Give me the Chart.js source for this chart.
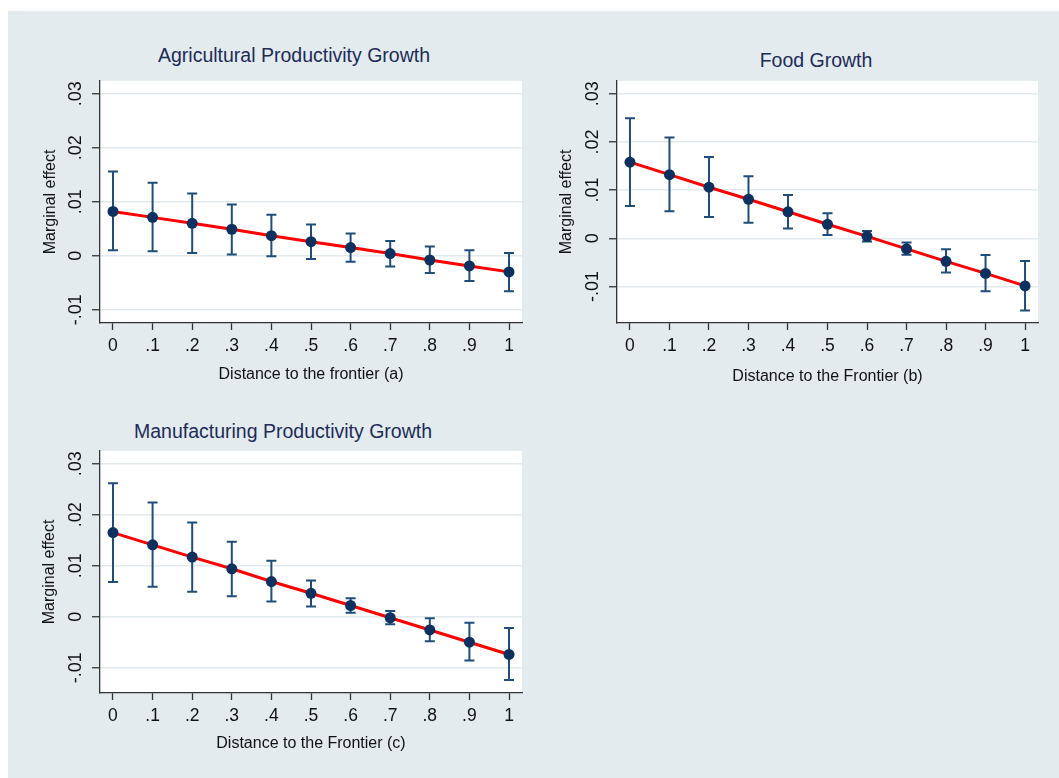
<!DOCTYPE html>
<html>
<head>
<meta charset="utf-8">
<script src="https://cdn.jsdelivr.net/npm/chart.js@4.4.1/dist/chart.umd.min.js"></script>
<style>
  body { margin: 0; width: 1059px; height: 778px; overflow: hidden; position: relative; background: #fff;
         font-family: "Liberation Sans", Arial, sans-serif; }
  #bg { position: absolute; left: 8px; top: 11px; right: 0; bottom: 0; background: #e3ebef; }
  canvas { position: absolute; }
  .ttl { position: absolute; transform: translate(-50%, -50%); font-size: 19.5px; color: #1d2b57; white-space: nowrap; }
</style>
</head>
<body>
<div id="bg"></div>
<div class="ttl" style="left:294px; top:55px">Agricultural Productivity Growth</div>
<div class="ttl" style="left:816px; top:60px">Food Growth</div>
<div class="ttl" style="left:283px; top:431px">Manufacturing Productivity Growth</div>
<canvas id="chartA" width="500" height="330" style="left:30px; top:70px"></canvas>
<canvas id="chartB" width="500" height="330" style="left:547px; top:70px"></canvas>
<canvas id="chartC" width="500" height="330" style="left:30px; top:440px"></canvas>

<script>
// distance to the frontier, shared by all three panels
const xValues = [0, 0.1, 0.2, 0.3, 0.4, 0.5, 0.6, 0.7, 0.8, 0.9, 1];
const xTickLabels = ['0', '.1', '.2', '.3', '.4', '.5', '.6', '.7', '.8', '.9', '1'];
const yTickValues = [-0.01, 0, 0.01, 0.02, 0.03];
const yTickLabels = ['-.01', '0', '.01', '.02', '.03'];

// (a) agricultural productivity growth
const agriEffect = [0.0082, 0.0071, 0.0060, 0.0049, 0.0037, 0.0026, 0.0015, 0.0004, -0.0008, -0.0019, -0.0030];
const agriUpper  = [0.0156, 0.0135, 0.0115, 0.0095, 0.0076, 0.0058, 0.0041, 0.0027, 0.0017, 0.0010, 0.0005];
const agriLower  = [0.0010, 0.0008, 0.0005, 0.0002, -0.0001, -0.0006, -0.0011, -0.0020, -0.0032, -0.0047, -0.0066];

// (b) food growth
const foodEffect = [0.0158, 0.0132, 0.0106, 0.0081, 0.0055, 0.0029, 0.0004, -0.0022, -0.0048, -0.0073, -0.0099];
const foodUpper  = [0.0249, 0.0209, 0.0169, 0.0129, 0.0090, 0.0052, 0.0015, -0.0009, -0.0023, -0.0035, -0.0047];
const foodLower  = [0.0067, 0.0056, 0.0044, 0.0032, 0.0020, 0.0007, -0.0007, -0.0034, -0.0071, -0.0110, -0.0150];

// (c) manufacturing productivity growth
const manuEffect = [0.0165, 0.0141, 0.0117, 0.0094, 0.0069, 0.0046, 0.0022, -0.0002, -0.0026, -0.0050, -0.0074];
const manuUpper  = [0.0262, 0.0224, 0.0185, 0.0147, 0.0110, 0.0071, 0.0036, 0.0011, -0.0003, -0.0012, -0.0022];
const manuLower  = [0.0068, 0.0059, 0.0049, 0.0040, 0.0030, 0.0020, 0.0008, -0.0015, -0.0048, -0.0086, -0.0124];

const FONT = '"Liberation Sans", Arial, sans-serif';
const AXIS_COLOR = '#333';

// tick labels fall back on these
Chart.defaults.font.family = FONT;
Chart.defaults.font.size = 17.5;
Chart.defaults.color = '#111';

// white plot region, Stata style
const plotBg = {
  id: 'plotBg',
  beforeDraw(chart) {
    const a = chart.chartArea, ctx = chart.ctx;
    ctx.save();
    ctx.fillStyle = '#fff';
    ctx.fillRect(a.left, a.top, a.right - a.left, a.bottom - a.top);
    ctx.restore();
  }
};

// capped confidence interval bars
function errorBars(upper, lower) {
  return {
    id: 'errorBars',
    beforeDatasetsDraw(chart) {
      const ctx = chart.ctx, x = chart.scales.x, y = chart.scales.y;
      const cap = 5;
      ctx.save();
      ctx.strokeStyle = '#1f4d7b';
      ctx.lineWidth = 2;
      xValues.forEach((xv, i) => {
        const px = x.getPixelForValue(xv);
        const top = y.getPixelForValue(upper[i]);
        const bot = y.getPixelForValue(lower[i]);
        ctx.beginPath();
        ctx.moveTo(px, top); ctx.lineTo(px, bot);
        ctx.moveTo(px - cap, top); ctx.lineTo(px + cap, top);
        ctx.moveTo(px - cap, bot); ctx.lineTo(px + cap, bot);
        ctx.stroke();
      });
      ctx.restore();
    }
  };
}

function makePanel(id, g, effect, upper, lower, yMin, yMax) {
  const pts = effect.map((v, i) => ({ x: xValues[i], y: v }));
  return new Chart(document.getElementById(id), {
    type: 'scatter',
    data: {
      datasets: [
        { type: 'line', data: pts, borderColor: '#ff0000', borderWidth: 3, pointRadius: 0, tension: 0, order: 2 },
        { data: pts, pointRadius: 5.5, pointHoverRadius: 5.5, backgroundColor: '#0c3161', borderWidth: 0, order: 1 }
      ]
    },
    options: {
      responsive: false,
      animation: false,
      events: [],
      layout: { padding: { left: 0, top: g.top - g.cTop, right: g.cLeft + g.w - g.right, bottom: 0 } },
      plugins: { legend: { display: false }, tooltip: { enabled: false } },
      scales: {
        x: {
          type: 'linear', min: -0.0328, max: 1.0328,
          afterBuildTicks: s => { s.ticks = xValues.map(v => ({ value: v })); },
          afterFit: s => { s.height = g.cTop + g.h - g.bottom; },
          ticks: { callback: (v, i) => xTickLabels[i], font: { family: FONT, size: 17.5 }, color: '#111',
                   padding: 6, autoSkip: false, maxRotation: 0 },
          grid: { drawOnChartArea: false, tickLength: 7, tickColor: AXIS_COLOR, tickWidth: 1.3 },
          border: { color: AXIS_COLOR, width: 1.3 },
          title: { display: true, text: g.xTitle, font: { family: FONT, size: 16 }, color: '#111',
                   padding: { top: 0, bottom: g.xTitlePad } }
        },
        y: {
          type: 'linear', min: yMin, max: yMax,
          afterBuildTicks: s => { s.ticks = yTickValues.map(v => ({ value: v })); },
          afterFit: s => { s.width = g.left - g.cLeft; },
          ticks: { callback: (v, i) => yTickLabels[i], font: { family: FONT, size: 18 }, color: '#111',
                   minRotation: 90, maxRotation: 90, crossAlign: 'center', padding: 0 },
          grid: { color: '#e2eaee', lineWidth: 1.5, tickLength: 8, tickColor: AXIS_COLOR, tickWidth: 1.3 },
          border: { color: AXIS_COLOR, width: 1.3 },
          title: { display: true, text: 'Marginal effect', font: { family: FONT, size: 16 }, color: '#111',
                   padding: { top: g.yTitlePad, bottom: 0 } }
        }
      }
    },
    plugins: [plotBg, errorBars(upper, lower)]
  });
}

makePanel('chartA',
  { cLeft: 30, cTop: 70, w: 500, h: 330, left: 100, right: 522, top: 74, bottom: 323,
    xTitle: 'Distance to the frontier (a)', xTitlePad: 16, yTitlePad: 10.7 },
  agriEffect, agriUpper, agriLower, -0.01247, 0.0324);

makePanel('chartB',
  { cLeft: 547, cTop: 70, w: 500, h: 330, left: 617, right: 1038, top: 74, bottom: 323,
    xTitle: 'Distance to the Frontier (b)', xTitlePad: 13.7, yTitlePad: 10.4 },
  foodEffect, foodUpper, foodLower, -0.0176, 0.0327);

makePanel('chartC',
  { cLeft: 30, cTop: 440, w: 500, h: 330, left: 100, right: 522, top: 444, bottom: 693,
    xTitle: 'Distance to the Frontier (c)', xTitlePad: 17, yTitlePad: 10.4 },
  manuEffect, manuUpper, manuLower, -0.01496, 0.03254);
</script>
</body>
</html>
